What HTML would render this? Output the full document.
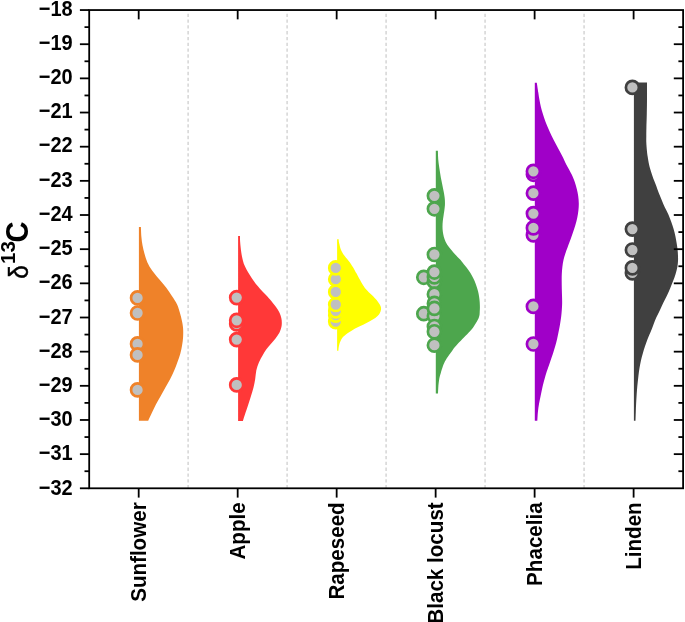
<!DOCTYPE html>
<html lang="en"><head><meta charset="utf-8"><title>Violin plot</title>
<style>html,body{margin:0;padding:0;background:#fff}svg{display:block}</style></head>
<body>
<svg width="685" height="622" viewBox="0 0 685 622">
<rect width="685" height="622" fill="#fff"/>
<line x1="188.13" y1="488.35" x2="188.13" y2="10.05" stroke="#dadada" stroke-width="1.7" stroke-dasharray="3.3 2.52"/>
<line x1="287.12" y1="488.35" x2="287.12" y2="10.05" stroke="#dadada" stroke-width="1.7" stroke-dasharray="3.3 2.52"/>
<line x1="386.10" y1="488.35" x2="386.10" y2="10.05" stroke="#dadada" stroke-width="1.7" stroke-dasharray="3.3 2.52"/>
<line x1="485.08" y1="488.35" x2="485.08" y2="10.05" stroke="#dadada" stroke-width="1.7" stroke-dasharray="3.3 2.52"/>
<line x1="584.07" y1="488.35" x2="584.07" y2="10.05" stroke="#dadada" stroke-width="1.7" stroke-dasharray="3.3 2.52"/>
<path d="M138.90 227.10 L140.90 227.10C140.98 228.73 141.13 233.87 141.40 236.90C141.67 239.93 141.98 242.48 142.50 245.30C143.02 248.12 143.70 250.98 144.50 253.80C145.30 256.62 146.03 259.40 147.30 262.20C148.57 265.00 150.15 267.78 152.10 270.60C154.05 273.42 156.67 276.28 159.00 279.10C161.33 281.92 163.95 284.68 166.10 287.50C168.25 290.32 170.07 293.18 171.90 296.00C173.73 298.82 175.77 301.60 177.10 304.40C178.43 307.20 179.08 309.98 179.90 312.80C180.72 315.62 181.47 318.70 182.00 321.30C182.53 323.90 182.92 325.80 183.10 328.40C183.28 331.00 183.27 334.08 183.10 336.90C182.93 339.72 182.57 342.48 182.10 345.30C181.63 348.12 181.08 350.98 180.30 353.80C179.52 356.62 178.42 359.40 177.40 362.20C176.38 365.00 175.40 367.78 174.20 370.60C173.00 373.42 171.67 376.28 170.20 379.10C168.73 381.92 166.98 384.68 165.40 387.50C163.82 390.32 162.28 393.18 160.70 396.00C159.12 398.82 157.37 401.60 155.90 404.40C154.43 407.20 153.18 410.07 151.90 412.80C150.62 415.53 148.82 419.47 148.20 420.80L138.90 420.80 Z" fill="#EF8229"/>
<path d="M238.10 236.00 L240.00 236.00C240.02 236.88 240.00 239.48 240.10 241.30C240.20 243.12 240.40 245.03 240.60 246.90C240.80 248.77 241.02 250.63 241.30 252.50C241.58 254.37 241.88 256.22 242.30 258.10C242.72 259.98 243.10 261.92 243.80 263.80C244.50 265.68 245.50 267.53 246.50 269.40C247.50 271.27 248.65 273.13 249.80 275.00C250.95 276.87 252.05 278.72 253.40 280.60C254.75 282.48 256.38 284.48 257.90 286.30C259.42 288.12 260.92 289.80 262.50 291.50C264.08 293.20 265.93 294.92 267.40 296.50C268.87 298.08 269.87 299.27 271.30 301.00C272.73 302.73 274.65 304.98 276.00 306.90C277.35 308.82 278.52 310.63 279.40 312.50C280.28 314.37 280.90 316.42 281.30 318.10C281.70 319.78 281.78 321.10 281.80 322.60C281.82 324.10 281.80 325.40 281.40 327.10C281.00 328.80 280.38 330.92 279.40 332.80C278.42 334.68 276.93 336.53 275.50 338.40C274.07 340.27 272.35 342.13 270.80 344.00C269.25 345.87 267.55 347.72 266.20 349.60C264.85 351.48 263.90 353.20 262.70 355.30C261.50 357.40 260.07 359.65 259.00 362.20C257.93 364.75 256.93 367.78 256.30 370.60C255.67 373.42 255.67 376.28 255.20 379.10C254.73 381.92 254.20 384.68 253.50 387.50C252.80 390.32 251.87 393.18 251.00 396.00C250.13 398.82 249.22 401.60 248.30 404.40C247.38 407.20 246.40 410.05 245.50 412.80C244.60 415.55 243.33 419.55 242.90 420.90L238.10 420.90 Z" fill="#FF3838"/>
<path d="M337.10 239.20 L338.70 239.20C338.72 239.57 338.67 240.50 338.80 241.40C338.93 242.30 339.25 243.52 339.50 244.60C339.75 245.68 339.97 246.82 340.30 247.90C340.63 248.98 341.00 250.03 341.50 251.10C342.00 252.17 342.58 253.23 343.30 254.30C344.02 255.37 344.93 256.43 345.80 257.50C346.67 258.57 347.65 259.63 348.50 260.70C349.35 261.77 350.15 262.82 350.90 263.90C351.65 264.98 352.35 266.12 353.00 267.20C353.65 268.28 354.20 269.33 354.80 270.40C355.40 271.47 356.05 272.60 356.60 273.60C357.15 274.60 357.57 275.40 358.10 276.40C358.63 277.40 359.20 278.52 359.80 279.60C360.40 280.68 361.07 281.83 361.70 282.90C362.33 283.97 362.88 284.93 363.60 286.00C364.32 287.07 365.10 288.22 366.00 289.30C366.90 290.38 367.90 291.43 369.00 292.50C370.10 293.57 371.33 294.45 372.60 295.70C373.87 296.95 375.55 298.75 376.60 300.00C377.65 301.25 378.22 302.13 378.90 303.20C379.58 304.27 380.35 305.33 380.70 306.40C381.05 307.47 381.13 308.52 381.00 309.60C380.87 310.68 380.52 311.78 379.90 312.90C379.28 314.02 378.48 315.18 377.30 316.30C376.12 317.42 374.60 318.48 372.80 319.60C371.00 320.72 368.67 321.88 366.50 323.00C364.33 324.12 361.97 325.22 359.80 326.30C357.63 327.38 355.82 328.13 353.50 329.50C351.18 330.87 347.72 333.15 345.90 334.50C344.08 335.85 343.47 336.57 342.60 337.60C341.73 338.63 341.23 339.63 340.70 340.70C340.17 341.77 339.75 342.78 339.40 344.00C339.05 345.22 338.77 346.87 338.60 348.00C338.43 349.13 338.43 350.33 338.40 350.80L337.10 350.80 Z" fill="#FFFF00"/>
<path d="M435.80 150.80 L437.90 150.80C437.93 151.85 438.02 155.38 438.10 157.10C438.18 158.82 438.27 159.77 438.40 161.10C438.53 162.43 438.72 163.77 438.90 165.10C439.08 166.43 439.30 167.77 439.50 169.10C439.70 170.43 439.88 171.75 440.10 173.10C440.32 174.45 440.55 175.85 440.80 177.20C441.05 178.55 441.33 179.87 441.60 181.20C441.87 182.53 442.13 183.87 442.40 185.20C442.67 186.53 442.93 187.87 443.20 189.20C443.47 190.53 443.78 191.98 444.00 193.20C444.22 194.42 444.35 195.33 444.50 196.50C444.65 197.67 444.83 198.70 444.90 200.20C444.97 201.70 445.00 203.75 444.90 205.50C444.80 207.25 444.53 208.97 444.30 210.70C444.07 212.43 443.75 214.17 443.50 215.90C443.25 217.63 442.97 219.35 442.80 221.10C442.63 222.85 442.50 224.65 442.50 226.40C442.50 228.15 442.58 229.87 442.80 231.60C443.02 233.33 443.32 235.07 443.80 236.80C444.28 238.53 444.82 240.25 445.70 242.00C446.58 243.75 447.82 245.55 449.10 247.30C450.38 249.05 451.87 250.77 453.40 252.50C454.93 254.23 457.07 256.42 458.30 257.70C459.53 258.98 459.70 258.90 460.80 260.20C461.90 261.50 463.55 263.75 464.90 265.50C466.25 267.25 467.70 268.97 468.90 270.70C470.10 272.43 471.15 274.17 472.10 275.90C473.05 277.63 473.85 279.35 474.60 281.10C475.35 282.85 476.02 284.65 476.60 286.40C477.18 288.15 477.68 289.87 478.10 291.60C478.52 293.33 478.83 295.07 479.10 296.80C479.37 298.53 479.57 300.25 479.70 302.00C479.83 303.75 479.90 305.55 479.90 307.30C479.90 309.05 479.77 311.22 479.70 312.50C479.63 313.78 479.68 314.05 479.50 315.00C479.32 315.95 479.03 317.13 478.60 318.20C478.17 319.27 477.50 320.33 476.90 321.40C476.30 322.47 475.68 323.52 475.00 324.60C474.32 325.68 473.60 326.82 472.80 327.90C472.00 328.98 471.13 330.03 470.20 331.10C469.27 332.17 468.25 333.23 467.20 334.30C466.15 335.37 464.97 336.43 463.90 337.50C462.83 338.57 461.85 339.63 460.80 340.70C459.75 341.77 458.62 342.82 457.60 343.90C456.58 344.98 455.57 346.12 454.70 347.20C453.83 348.28 453.15 349.33 452.40 350.40C451.65 351.47 450.95 352.53 450.20 353.60C449.45 354.67 448.63 355.73 447.90 356.80C447.17 357.87 446.43 358.93 445.80 360.00C445.17 361.07 444.60 362.13 444.10 363.20C443.60 364.27 443.20 365.32 442.80 366.40C442.40 367.48 442.03 368.62 441.70 369.70C441.37 370.78 441.10 371.83 440.80 372.90C440.50 373.97 440.17 375.03 439.90 376.10C439.63 377.17 439.45 377.70 439.20 379.30C438.95 380.90 438.60 383.33 438.40 385.70C438.20 388.07 438.07 392.20 438.00 393.50L435.80 393.50 Z" fill="#4DA64D"/>
<path d="M534.80 82.70 L536.80 82.70C537.05 84.33 537.87 89.70 538.30 92.50C538.73 95.30 538.97 97.10 539.40 99.50C539.83 101.90 540.32 104.48 540.90 106.90C541.48 109.32 542.15 111.58 542.90 114.00C543.65 116.42 544.50 118.98 545.40 121.40C546.30 123.82 547.25 126.08 548.30 128.50C549.35 130.92 550.53 133.48 551.70 135.90C552.87 138.32 554.03 140.58 555.30 143.00C556.57 145.42 558.02 147.98 559.30 150.40C560.58 152.82 561.82 155.10 563.00 157.50C564.18 159.90 564.95 161.97 566.40 164.80C567.85 167.63 570.33 171.72 571.70 174.50C573.07 177.28 573.75 179.10 574.60 181.50C575.45 183.90 576.20 186.48 576.80 188.90C577.40 191.32 577.87 193.58 578.20 196.00C578.53 198.42 578.77 200.98 578.80 203.40C578.83 205.82 578.67 208.08 578.40 210.50C578.13 212.92 577.70 215.48 577.20 217.90C576.70 220.32 576.11 222.58 575.40 225.00C574.69 227.42 573.77 229.98 572.95 232.40C572.13 234.82 571.36 237.10 570.50 239.50C569.64 241.90 568.58 244.68 567.80 246.80C567.02 248.92 566.50 250.08 565.80 252.20C565.10 254.32 564.17 257.08 563.60 259.50C563.03 261.92 562.70 264.30 562.40 266.70C562.10 269.10 561.92 271.52 561.80 273.90C561.68 276.28 561.70 278.58 561.70 281.00C561.70 283.42 561.75 285.97 561.80 288.40C561.85 290.83 561.94 293.18 562.00 295.60C562.06 298.02 562.18 300.50 562.15 302.90C562.12 305.30 561.97 307.60 561.80 310.00C561.62 312.40 561.40 314.88 561.10 317.30C560.80 319.72 560.42 322.08 560.00 324.50C559.58 326.92 559.08 329.38 558.60 331.80C558.12 334.22 557.67 336.58 557.10 339.00C556.53 341.42 555.88 343.88 555.20 346.30C554.52 348.72 553.78 351.10 553.00 353.50C552.22 355.90 551.33 358.28 550.50 360.70C549.67 363.12 548.82 365.58 548.00 368.00C547.18 370.42 546.33 372.78 545.60 375.20C544.87 377.62 544.22 380.08 543.60 382.50C542.98 384.92 542.43 387.28 541.90 389.70C541.37 392.12 540.88 394.60 540.40 397.00C539.92 399.40 539.42 401.60 539.00 404.10C538.58 406.60 538.18 409.22 537.90 412.00C537.62 414.78 537.40 419.33 537.30 420.80L534.80 420.80 Z" fill="#A000C8"/>
<path d="M633.90 82.50 L647.00 82.50C647.00 85.23 647.03 93.75 647.00 98.90C646.97 104.05 646.90 108.57 646.80 113.40C646.70 118.23 646.48 124.15 646.40 127.90C646.32 131.65 646.32 133.50 646.30 135.90C646.28 138.30 646.20 139.88 646.30 142.30C646.40 144.72 646.67 147.98 646.90 150.40C647.13 152.82 647.33 154.40 647.70 156.80C648.07 159.20 648.57 162.38 649.10 164.80C649.63 167.22 650.20 169.02 650.90 171.30C651.60 173.58 652.42 176.10 653.30 178.50C654.18 180.90 655.28 183.28 656.20 185.70C657.12 188.12 657.87 190.58 658.80 193.00C659.73 195.42 660.78 197.78 661.80 200.20C662.82 202.62 663.78 205.08 664.90 207.50C666.02 209.92 667.43 212.28 668.50 214.70C669.57 217.12 670.45 219.60 671.30 222.00C672.15 224.40 672.92 226.72 673.60 229.10C674.28 231.48 674.88 233.88 675.40 236.30C675.92 238.72 676.33 241.32 676.70 243.60C677.07 245.88 677.38 247.93 677.60 250.00C677.82 252.07 677.93 254.17 678.00 256.00C678.07 257.83 678.10 259.22 678.00 261.00C677.90 262.78 677.80 264.55 677.40 266.70C677.00 268.85 676.33 271.48 675.60 273.90C674.87 276.32 673.92 278.78 673.00 281.20C672.08 283.62 671.10 286.00 670.10 288.40C669.10 290.80 668.15 293.18 667.00 295.60C665.85 298.02 664.37 300.50 663.20 302.90C662.03 305.30 661.13 307.60 660.00 310.00C658.87 312.40 657.48 314.88 656.40 317.30C655.32 319.72 654.45 322.08 653.50 324.50C652.55 326.92 651.68 329.38 650.70 331.80C649.72 334.22 648.55 336.58 647.60 339.00C646.65 341.42 645.80 343.88 645.00 346.30C644.20 348.72 643.48 351.10 642.80 353.50C642.12 355.90 641.45 358.28 640.90 360.70C640.35 363.12 639.90 365.58 639.50 368.00C639.10 370.42 638.80 372.78 638.50 375.20C638.20 377.62 637.95 380.08 637.70 382.50C637.45 384.92 637.20 387.28 637.00 389.70C636.80 392.12 636.65 394.60 636.50 397.00C636.35 399.40 636.22 401.60 636.10 404.10C635.98 406.60 635.90 409.22 635.80 412.00C635.70 414.78 635.55 419.33 635.50 420.80L633.90 420.80 Z" fill="#404040"/>
<g fill="#c0c0c0" stroke="#EF8229" stroke-width="2.7">
<circle cx="137.55" cy="389.90" r="6.5"/>
<circle cx="137.55" cy="343.90" r="6.5"/>
<circle cx="137.55" cy="354.90" r="6.5"/>
<circle cx="137.55" cy="313.00" r="6.5"/>
<circle cx="137.55" cy="297.90" r="6.5"/>
</g>
<g fill="#c0c0c0" stroke="#FF3838" stroke-width="2.7">
<circle cx="236.70" cy="384.90" r="6.5"/>
<circle cx="236.70" cy="339.60" r="6.5"/>
<circle cx="236.70" cy="323.90" r="6.5"/>
<circle cx="236.70" cy="320.30" r="6.5"/>
<circle cx="236.70" cy="297.60" r="6.5"/>
</g>
<g fill="#c0c0c0" stroke="#FFFF00" stroke-width="2.7">
<circle cx="335.75" cy="321.60" r="6.5"/>
<circle cx="335.75" cy="315.20" r="6.5"/>
<circle cx="335.75" cy="310.90" r="6.5"/>
<circle cx="335.75" cy="304.50" r="6.5"/>
<circle cx="335.75" cy="291.90" r="6.5"/>
<circle cx="335.75" cy="279.20" r="6.5"/>
<circle cx="335.75" cy="267.90" r="6.5"/>
</g>
<g fill="#c0c0c0" stroke="#4DA64D" stroke-width="2.7">
<circle cx="434.40" cy="195.80" r="6.5"/>
<circle cx="434.40" cy="208.80" r="6.5"/>
<circle cx="434.40" cy="254.50" r="6.5"/>
<circle cx="423.80" cy="277.30" r="6.5"/>
<circle cx="434.40" cy="281.70" r="6.5"/>
<circle cx="434.40" cy="276.90" r="6.5"/>
<circle cx="434.40" cy="272.05" r="6.5"/>
<circle cx="434.40" cy="294.20" r="6.5"/>
<circle cx="434.40" cy="303.40" r="6.5"/>
<circle cx="423.80" cy="313.70" r="6.5"/>
<circle cx="434.40" cy="316.00" r="6.5"/>
<circle cx="434.40" cy="308.40" r="6.5"/>
<circle cx="434.40" cy="326.50" r="6.5"/>
<circle cx="434.40" cy="331.75" r="6.5"/>
<circle cx="434.40" cy="345.20" r="6.5"/>
</g>
<g fill="#c0c0c0" stroke="#A000C8" stroke-width="2.7">
<circle cx="533.40" cy="344.00" r="6.5"/>
<circle cx="533.40" cy="306.45" r="6.5"/>
<circle cx="533.40" cy="234.90" r="6.5"/>
<circle cx="533.40" cy="227.90" r="6.5"/>
<circle cx="533.40" cy="213.60" r="6.5"/>
<circle cx="533.40" cy="193.20" r="6.5"/>
<circle cx="533.40" cy="174.30" r="6.5"/>
<circle cx="533.40" cy="171.30" r="6.5"/>
</g>
<g fill="#c0c0c0" stroke="#404040" stroke-width="2.7">
<circle cx="632.40" cy="272.90" r="6.5"/>
<circle cx="632.40" cy="267.90" r="6.5"/>
<circle cx="632.40" cy="250.00" r="6.5"/>
<circle cx="632.40" cy="229.10" r="6.5"/>
<circle cx="632.40" cy="87.40" r="6.5"/>
</g>
<g stroke="#000" stroke-width="1.80" fill="none">
<rect x="89.20" y="10.05" width="593.90" height="478.25"/>
<line x1="79.90" y1="10.05" x2="89.20" y2="10.05"/>
<line x1="84.50" y1="27.13" x2="89.20" y2="27.13"/>
<line x1="678.40" y1="27.13" x2="683.10" y2="27.13"/>
<line x1="79.90" y1="44.21" x2="89.20" y2="44.21"/>
<line x1="673.80" y1="44.21" x2="683.10" y2="44.21"/>
<line x1="84.50" y1="61.29" x2="89.20" y2="61.29"/>
<line x1="678.40" y1="61.29" x2="683.10" y2="61.29"/>
<line x1="79.90" y1="78.37" x2="89.20" y2="78.37"/>
<line x1="673.80" y1="78.37" x2="683.10" y2="78.37"/>
<line x1="84.50" y1="95.45" x2="89.20" y2="95.45"/>
<line x1="678.40" y1="95.45" x2="683.10" y2="95.45"/>
<line x1="79.90" y1="112.53" x2="89.20" y2="112.53"/>
<line x1="673.80" y1="112.53" x2="683.10" y2="112.53"/>
<line x1="84.50" y1="129.61" x2="89.20" y2="129.61"/>
<line x1="678.40" y1="129.61" x2="683.10" y2="129.61"/>
<line x1="79.90" y1="146.69" x2="89.20" y2="146.69"/>
<line x1="673.80" y1="146.69" x2="683.10" y2="146.69"/>
<line x1="84.50" y1="163.77" x2="89.20" y2="163.77"/>
<line x1="678.40" y1="163.77" x2="683.10" y2="163.77"/>
<line x1="79.90" y1="180.85" x2="89.20" y2="180.85"/>
<line x1="673.80" y1="180.85" x2="683.10" y2="180.85"/>
<line x1="84.50" y1="197.93" x2="89.20" y2="197.93"/>
<line x1="678.40" y1="197.93" x2="683.10" y2="197.93"/>
<line x1="79.90" y1="215.01" x2="89.20" y2="215.01"/>
<line x1="673.80" y1="215.01" x2="683.10" y2="215.01"/>
<line x1="84.50" y1="232.09" x2="89.20" y2="232.09"/>
<line x1="678.40" y1="232.09" x2="683.10" y2="232.09"/>
<line x1="79.90" y1="249.18" x2="89.20" y2="249.18"/>
<line x1="673.80" y1="249.18" x2="683.10" y2="249.18"/>
<line x1="84.50" y1="266.26" x2="89.20" y2="266.26"/>
<line x1="678.40" y1="266.26" x2="683.10" y2="266.26"/>
<line x1="79.90" y1="283.34" x2="89.20" y2="283.34"/>
<line x1="673.80" y1="283.34" x2="683.10" y2="283.34"/>
<line x1="84.50" y1="300.42" x2="89.20" y2="300.42"/>
<line x1="678.40" y1="300.42" x2="683.10" y2="300.42"/>
<line x1="79.90" y1="317.50" x2="89.20" y2="317.50"/>
<line x1="673.80" y1="317.50" x2="683.10" y2="317.50"/>
<line x1="84.50" y1="334.58" x2="89.20" y2="334.58"/>
<line x1="678.40" y1="334.58" x2="683.10" y2="334.58"/>
<line x1="79.90" y1="351.66" x2="89.20" y2="351.66"/>
<line x1="673.80" y1="351.66" x2="683.10" y2="351.66"/>
<line x1="84.50" y1="368.74" x2="89.20" y2="368.74"/>
<line x1="678.40" y1="368.74" x2="683.10" y2="368.74"/>
<line x1="79.90" y1="385.82" x2="89.20" y2="385.82"/>
<line x1="673.80" y1="385.82" x2="683.10" y2="385.82"/>
<line x1="84.50" y1="402.90" x2="89.20" y2="402.90"/>
<line x1="678.40" y1="402.90" x2="683.10" y2="402.90"/>
<line x1="79.90" y1="419.98" x2="89.20" y2="419.98"/>
<line x1="673.80" y1="419.98" x2="683.10" y2="419.98"/>
<line x1="84.50" y1="437.06" x2="89.20" y2="437.06"/>
<line x1="678.40" y1="437.06" x2="683.10" y2="437.06"/>
<line x1="79.90" y1="454.14" x2="89.20" y2="454.14"/>
<line x1="673.80" y1="454.14" x2="683.10" y2="454.14"/>
<line x1="84.50" y1="471.22" x2="89.20" y2="471.22"/>
<line x1="678.40" y1="471.22" x2="683.10" y2="471.22"/>
<line x1="79.90" y1="488.30" x2="89.20" y2="488.30"/>
<line x1="138.69" y1="10.05" x2="138.69" y2="19.35"/>
<line x1="138.69" y1="488.30" x2="138.69" y2="497.60"/>
<line x1="237.68" y1="10.05" x2="237.68" y2="19.35"/>
<line x1="237.68" y1="488.30" x2="237.68" y2="497.60"/>
<line x1="336.66" y1="10.05" x2="336.66" y2="19.35"/>
<line x1="336.66" y1="488.30" x2="336.66" y2="497.60"/>
<line x1="435.64" y1="10.05" x2="435.64" y2="19.35"/>
<line x1="435.64" y1="488.30" x2="435.64" y2="497.60"/>
<line x1="534.62" y1="10.05" x2="534.62" y2="19.35"/>
<line x1="534.62" y1="488.30" x2="534.62" y2="497.60"/>
<line x1="633.61" y1="10.05" x2="633.61" y2="19.35"/>
<line x1="633.61" y1="488.30" x2="633.61" y2="497.60"/>
</g>
<g font-family="'Liberation Sans', Arial, sans-serif" font-weight="bold" fill="#000">
<text transform="translate(72.7 15.65) scale(1 1.09)" font-size="20" text-anchor="end">−18</text>
<text transform="translate(72.7 49.86) scale(1 1.09)" font-size="20" text-anchor="end">−19</text>
<text transform="translate(72.7 84.06) scale(1 1.09)" font-size="20" text-anchor="end">−20</text>
<text transform="translate(72.7 118.27) scale(1 1.09)" font-size="20" text-anchor="end">−21</text>
<text transform="translate(72.7 152.48) scale(1 1.09)" font-size="20" text-anchor="end">−22</text>
<text transform="translate(72.7 186.68) scale(1 1.09)" font-size="20" text-anchor="end">−23</text>
<text transform="translate(72.7 220.89) scale(1 1.09)" font-size="20" text-anchor="end">−24</text>
<text transform="translate(72.7 255.10) scale(1 1.09)" font-size="20" text-anchor="end">−25</text>
<text transform="translate(72.7 289.30) scale(1 1.09)" font-size="20" text-anchor="end">−26</text>
<text transform="translate(72.7 323.51) scale(1 1.09)" font-size="20" text-anchor="end">−27</text>
<text transform="translate(72.7 357.72) scale(1 1.09)" font-size="20" text-anchor="end">−28</text>
<text transform="translate(72.7 391.92) scale(1 1.09)" font-size="20" text-anchor="end">−29</text>
<text transform="translate(72.7 426.13) scale(1 1.09)" font-size="20" text-anchor="end">−30</text>
<text transform="translate(72.7 460.34) scale(1 1.09)" font-size="20" text-anchor="end">−31</text>
<text transform="translate(72.7 494.54) scale(1 1.09)" font-size="20" text-anchor="end">−32</text>
<text transform="translate(146.09 502.30) rotate(-90) scale(1 1.03)" font-size="20.6" text-anchor="end">Sunflower</text>
<text transform="translate(245.08 502.30) rotate(-90) scale(1 1.03)" font-size="20.6" text-anchor="end">Apple</text>
<text transform="translate(344.06 502.30) rotate(-90) scale(1 1.03)" font-size="20.6" text-anchor="end">Rapeseed</text>
<text transform="translate(443.04 502.30) rotate(-90) scale(1 1.03)" font-size="20.6" text-anchor="end">Black locust</text>
<text transform="translate(542.02 502.30) rotate(-90) scale(1 1.03)" font-size="20.6" text-anchor="end">Phacelia</text>
<text transform="translate(641.01 502.30) rotate(-90) scale(1 1.03)" font-size="20.6" text-anchor="end">Linden</text>
<text transform="translate(27.80 278.80) rotate(-90) scale(0.900 1)" font-size="27.00" font-weight="normal" stroke="#000" stroke-width="0.5">δ</text>
<text transform="translate(15.40 263.90) rotate(-90) scale(1 1.000)" font-size="20.60">13</text>
<text transform="translate(28.10 242.50) rotate(-90) scale(1 1.100)" font-size="29.00">C</text>
</g>
</svg>
</body></html>
